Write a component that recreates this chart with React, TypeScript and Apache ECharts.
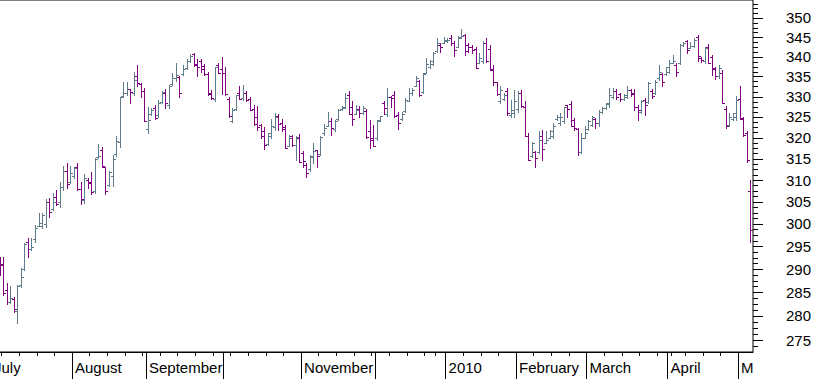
import React, { useEffect, useRef } from 'react';
import * as echarts from 'echarts';

// ---- calendar (trading days) ----
const calendarStart = '2009-07-01';
const calendarEnd = '2010-05-06';
const holidays = ['2009-12-24', '2009-12-25', '2009-12-31', '2010-01-01', '2010-04-02', '2010-04-05'];
const firstBarDate = '2009-07-03';

// ---- month labels on the time axis ----
const monthKeys = ['2009-07', '2009-08', '2009-09', '2009-10', '2009-11', '2009-12', '2010-01', '2010-02', '2010-03', '2010-04', '2010-05'];
const monthLabels = ['July', 'August', 'September', '', 'November', '', '2010', 'February', 'March', 'April', 'M'];

// ---- price axis tick labels (logarithmic price scale) ----
const priceTicks = [275, 280, 285, 290, 295, 300, 305, 310, 315, 320, 325, 330, 335, 340, 345, 350];
const minorTickStep = 1.25;
const priceMin = 272.54;
const priceMax = 354.75;

// ---- OHLC values (one per trading day, starting at firstBarDate) ----
const opens = [
  292.5, 291.0, 285.5, 283.0, 283.5, 281.0, 286.5, 290.0, 296.0, 294.3, 296.5, 299.5, 299.5, 300.0, 305.0, 303.3, 306.0, 305.0, 308.5, 312.0,
  309.5, 311.0, 313.0, 308.0, 305.5, 310.0, 309.5, 307.5, 315.3, 317.0, 313.0, 308.8, 311.0, 316.0, 319.0, 330.2, 331.0, 331.8, 331.0, 335.0,
  333.0, 331.5, 322.0, 325.7, 327.3, 325.5, 328.6, 330.9, 328.0, 333.0, 334.5, 334.8, 335.5, 337.2, 339.0, 340.7, 338.2, 339.0, 337.6, 335.5,
  331.0, 329.5, 337.8, 337.0, 336.0, 329.5, 324.0, 327.0, 331.0, 329.7, 331.0, 329.4, 327.0, 325.0, 323.0, 321.5, 318.5, 320.5, 322.5, 325.3,
  323.5, 322.5, 318.0, 320.3, 318.3, 320.0, 316.3, 313.5, 312.5, 315.5, 317.0, 316.1, 321.0, 322.9, 324.0, 322.0, 324.5, 326.9, 327.5, 330.5,
  327.5, 325.8, 327.0, 325.9, 326.5, 321.5, 320.0, 319.8, 324.2, 328.5, 325.8, 330.0, 330.5, 325.5, 324.5, 326.5, 329.0, 330.8, 332.7, 333.8,
  331.2, 336.0, 337.3, 338.1, 341.5, 343.0, 343.5, 344.0, 344.7, 343.5, 342.5, 344.8, 345.5, 343.0, 342.6, 342.0, 338.5, 339.0, 343.5, 342.0,
  337.0, 333.5, 329.0, 329.5, 331.5, 325.5, 326.0, 327.0, 331.0, 327.5, 320.5, 315.7, 316.5, 316.5, 320.5, 318.8, 320.0, 320.5, 324.5, 323.5,
  324.0, 327.8, 328.2, 324.3, 322.0, 316.5, 320.0, 322.2, 323.0, 324.5, 323.6, 326.2, 327.1, 328.2, 330.0, 331.5, 330.7, 329.4, 330.0, 331.6,
  331.0, 327.5, 326.3, 329.2, 328.6, 331.5, 331.0, 334.5, 335.5, 335.6, 336.2, 338.4, 338.0, 338.5, 343.0, 344.0, 342.3, 342.8, 345.0, 339.6,
  338.8, 342.5, 340.0, 337.0, 335.0, 336.0, 327.0, 323.0, 324.5, 325.0, 329.5, 324.5, 321.0, 307.4,
];
const highs = [
  292.7, 292.7, 286.9, 286.4, 284.1, 286.6, 290.2, 295.8, 296.8, 296.8, 299.7, 302.4, 302.4, 305.6, 305.8, 306.9, 307.7, 309.5, 313.2, 313.9,
  313.3, 313.1, 313.9, 309.6, 311.4, 310.4, 311.8, 315.2, 318.4, 317.8, 313.1, 312.1, 315.9, 320.4, 330.0, 333.7, 333.7, 331.9, 336.2, 337.8,
  333.3, 332.2, 327.5, 327.3, 327.9, 329.2, 331.3, 331.9, 332.9, 335.8, 338.5, 335.0, 337.9, 339.5, 340.6, 341.0, 339.5, 339.5, 338.2, 336.2,
  331.6, 337.5, 338.3, 340.0, 337.5, 330.0, 327.1, 330.5, 332.5, 332.8, 331.3, 329.8, 327.9, 327.7, 323.3, 322.5, 321.1, 324.5, 326.0, 325.7,
  324.5, 323.1, 320.7, 320.7, 320.3, 320.9, 316.7, 313.9, 315.9, 318.7, 317.1, 320.5, 323.3, 326.1, 324.7, 324.3, 326.9, 327.6, 331.0, 331.3,
  328.8, 328.0, 327.7, 327.7, 326.9, 324.3, 323.1, 324.3, 325.3, 328.9, 332.1, 330.2, 331.3, 326.3, 326.3, 329.6, 332.1, 332.1, 335.0, 334.0,
  335.8, 339.6, 339.2, 341.3, 344.7, 343.4, 345.1, 344.9, 345.6, 344.1, 345.3, 347.0, 345.8, 343.4, 343.0, 342.6, 340.9, 343.9, 344.7, 343.0,
  337.9, 333.7, 332.5, 330.9, 332.1, 329.2, 331.7, 331.3, 331.7, 328.8, 321.1, 318.9, 316.7, 321.5, 321.9, 321.5, 321.9, 323.5, 325.5, 325.9,
  327.5, 328.0, 328.8, 324.7, 322.3, 321.1, 322.7, 324.3, 325.2, 324.7, 326.7, 327.4, 328.5, 332.1, 332.1, 331.8, 331.0, 330.7, 332.5, 331.8,
  331.8, 328.0, 329.2, 329.6, 333.7, 331.8, 334.0, 337.9, 335.8, 337.5, 339.2, 340.4, 338.3, 343.2, 343.8, 344.4, 343.8, 344.7, 345.6, 339.8,
  342.6, 343.2, 340.4, 337.5, 337.9, 336.6, 327.7, 325.9, 326.0, 330.2, 332.5, 325.1, 321.5, 310.0,
];
const lows = [
  288.7, 284.4, 282.5, 282.7, 280.9, 278.5, 286.2, 289.8, 292.7, 294.2, 296.0, 299.4, 299.0, 299.3, 301.5, 303.1, 304.3, 303.8, 307.7, 308.1,
  309.2, 310.4, 307.7, 304.6, 304.8, 308.1, 306.8, 306.9, 315.1, 313.1, 306.8, 308.6, 308.6, 315.7, 317.8, 330.0, 330.4, 328.3, 330.4, 332.5,
  330.0, 324.0, 321.2, 325.5, 324.5, 325.1, 328.4, 327.3, 327.1, 332.9, 333.8, 329.8, 335.3, 337.0, 338.7, 337.6, 335.0, 336.2, 335.4, 330.5,
  329.4, 328.8, 335.8, 330.6, 330.5, 325.1, 323.7, 326.6, 329.3, 329.2, 328.8, 326.7, 323.1, 321.9, 319.9, 317.4, 318.3, 319.9, 321.9, 321.9,
  321.5, 317.5, 317.9, 318.0, 314.7, 314.1, 313.1, 310.8, 312.0, 314.0, 313.1, 315.9, 320.7, 322.7, 320.7, 321.5, 324.3, 326.8, 327.1, 325.6,
  323.1, 325.6, 325.1, 325.6, 319.9, 317.5, 317.9, 319.5, 324.1, 325.6, 325.3, 327.4, 325.1, 322.1, 324.3, 326.3, 328.8, 330.5, 332.5, 330.2,
  330.9, 335.8, 337.1, 337.9, 341.3, 341.1, 343.4, 343.8, 343.0, 340.2, 342.4, 344.7, 340.4, 341.3, 340.9, 337.1, 338.3, 338.3, 338.7, 336.6,
  332.9, 330.4, 328.4, 329.2, 325.5, 325.1, 325.1, 326.3, 327.5, 320.3, 314.7, 315.5, 313.1, 316.3, 314.7, 318.7, 319.9, 319.9, 324.3, 323.1,
  323.5, 325.1, 322.7, 321.9, 315.9, 316.3, 319.9, 321.9, 322.8, 322.3, 322.7, 326.0, 326.9, 327.5, 329.6, 329.4, 329.0, 329.2, 329.6, 330.2,
  326.7, 324.3, 325.9, 325.5, 328.4, 329.6, 330.7, 334.2, 332.5, 335.4, 335.8, 338.3, 335.0, 338.1, 342.8, 340.9, 342.2, 342.6, 339.0, 338.7,
  338.5, 338.3, 335.4, 334.3, 334.6, 328.4, 322.3, 322.8, 324.3, 324.3, 324.4, 320.3, 314.1, 296.0,
];
const closes = [
  290.9, 284.8, 283.0, 283.7, 281.4, 286.3, 288.3, 295.6, 294.3, 294.9, 299.0, 300.1, 302.1, 304.9, 302.6, 304.9, 304.4, 308.5, 312.1, 309.0,
  311.6, 312.7, 307.9, 305.6, 310.4, 309.2, 307.2, 314.9, 315.7, 313.3, 307.4, 311.9, 314.9, 319.3, 329.8, 330.8, 331.8, 331.1, 334.1, 333.4,
  331.3, 324.1, 324.2, 326.7, 324.7, 328.4, 331.1, 328.4, 332.7, 334.6, 335.4, 331.0, 337.0, 339.0, 340.2, 338.0, 337.5, 336.9, 335.6, 330.6,
  329.6, 337.3, 335.9, 335.8, 330.6, 325.3, 326.7, 330.3, 329.5, 331.0, 329.2, 326.8, 323.2, 322.5, 320.3, 318.3, 321.0, 322.7, 325.1, 323.3,
  322.0, 317.6, 319.9, 318.3, 320.1, 314.3, 314.5, 311.6, 315.6, 316.7, 315.6, 320.1, 322.3, 323.9, 322.3, 324.1, 326.8, 327.3, 329.6, 325.8,
  324.5, 326.7, 325.9, 327.3, 320.1, 319.5, 318.1, 324.1, 325.2, 327.3, 329.9, 329.6, 325.3, 323.5, 325.8, 329.2, 331.0, 331.7, 334.6, 330.5,
  335.7, 338.1, 338.8, 340.9, 343.6, 342.5, 344.4, 344.4, 343.4, 341.7, 345.0, 345.3, 341.5, 342.6, 341.7, 337.2, 339.6, 343.6, 339.0, 336.7,
  333.7, 330.7, 331.7, 330.5, 325.9, 326.7, 328.8, 330.9, 327.7, 320.4, 314.8, 318.7, 315.1, 319.5, 317.3, 319.5, 321.5, 322.7, 325.1, 325.1,
  327.4, 326.9, 322.8, 322.3, 316.5, 319.9, 321.1, 323.9, 325.1, 323.6, 326.3, 327.1, 328.4, 330.4, 331.3, 329.8, 329.4, 330.4, 331.7, 330.7,
  327.5, 326.7, 328.8, 328.0, 333.3, 330.2, 333.7, 336.2, 333.7, 337.3, 338.3, 339.0, 336.2, 343.0, 343.6, 341.6, 342.8, 344.3, 340.2, 339.2,
  342.2, 338.5, 337.1, 335.0, 337.1, 328.5, 322.8, 325.1, 325.9, 329.2, 324.7, 320.7, 314.6, 298.6,
];

const UP_COLOR = '#607B8B';
const DOWN_COLOR = '#800080';
const FONT = "'Liberation Sans', Arial, sans-serif";
const MAJOR_TICK_LEN = 9;
const MINOR_TICK_LEN = 4;

function tradingDays(): string[] {
  const out: string[] = [];
  const d = new Date(calendarStart + 'T00:00:00Z');
  const end = new Date(calendarEnd + 'T00:00:00Z');
  while (d.getTime() <= end.getTime()) {
    const dow = d.getUTCDay();
    const iso = d.toISOString().slice(0, 10);
    if (dow !== 0 && dow !== 6 && holidays.indexOf(iso) < 0) out.push(iso);
    d.setUTCDate(d.getUTCDate() + 1);
  }
  return out;
}

// the price scale is logarithmic: the value axis works on ln(price)
const toScale = (p: number) => Math.log(p);
const fromScale = (v: number) => Math.exp(v);

export default function App() {
  const ref = useRef<HTMLDivElement>(null);

  useEffect(() => {
    if (!ref.current) return;
    const chart = echarts.init(ref.current, null, { renderer: 'svg' });

    const days = tradingDays();
    const startIdx = days.indexOf(firstBarDate);
    const bars = opens.map((o, k) => [
      startIdx + k,
      toScale(o),
      toScale(highs[k]),
      toScale(lows[k]),
      toScale(closes[k]),
    ]);

    const monthBounds: number[] = [];
    const labelMap = new Map<number, string>();
    const weekBounds: number[] = [];
    days.forEach((d, i) => {
      const key = d.slice(0, 7);
      if (i === 0 || key !== days[i - 1].slice(0, 7)) {
        const v = i - 0.5;
        monthBounds.push(v);
        const mi = monthKeys.indexOf(key);
        labelMap.set(v, mi >= 0 ? monthLabels[mi] : '');
      }
      if (i > 0) {
        const t = Date.parse(d);
        const tp = Date.parse(days[i - 1]);
        const dow = new Date(t).getUTCDay();
        const pdow = new Date(tp).getUTCDay();
        if (dow <= pdow || t - tp >= 7 * 864e5) weekBounds.push(i - 0.5);
      }
    });

    const majorTickValues = priceTicks.map(toScale);
    const minorTickValues: number[] = [];
    for (let p = priceTicks[0] - 2 * minorTickStep; p <= priceTicks[priceTicks.length - 1] + 4 * minorTickStep; p += minorTickStep) {
      minorTickValues.push(toScale(p));
    }

    const xMin = -3.61;
    const xMax = 215.74;
    const yMin = toScale(priceMin);
    const yMax = toScale(priceMax);

    const priceAxisTicks = [
      ...minorTickValues.filter((v) => v > yMin && v < yMax).map((v) => [v, MINOR_TICK_LEN]),
      ...majorTickValues.map((v) => [v, MAJOR_TICK_LEN]),
    ];

    const option: any = {
      animation: false,
      backgroundColor: '#fff',
      grid: {
        left: -20,
        right: 67,
        top: 0,
        bottom: 27,
        show: true,
        borderColor: '#000',
        borderWidth: 1,
        backgroundColor: 'transparent',
        containLabel: false,
        outerBoundsMode: 'none',
      },
      xAxis: [
        {
          type: 'value',
          position: 'bottom',
          min: xMin,
          max: xMax,
          axisLine: { show: true, lineStyle: { color: '#000', width: 1 } },
          axisTick: { show: true, customValues: weekBounds, length: 4, inside: false, lineStyle: { color: '#000' } },
          axisLabel: {
            show: true,
            customValues: monthBounds,
            formatter: (v: number) => labelMap.get(v) ?? '',
            align: 'left',
            padding: [0, 0, 0, 3],
            margin: 8,
            color: '#000',
            fontSize: 15,
            fontFamily: FONT,
          },
          splitLine: { show: false },
        },
        {
          type: 'value',
          position: 'bottom',
          min: xMin,
          max: xMax,
          axisLine: { show: false },
          axisTick: { show: true, customValues: monthBounds, length: 27, inside: false, lineStyle: { color: '#000' } },
          axisLabel: { show: false },
          splitLine: { show: false },
        },
      ],
      yAxis: [
        {
          type: 'value',
          position: 'right',
          min: yMin,
          max: yMax,
          axisLine: { show: true, lineStyle: { color: '#000', width: 1 } },
          axisTick: { show: false },
          axisLabel: {
            show: true,
            customValues: majorTickValues,
            formatter: (v: number) => String(Math.round(fromScale(v))),
            align: 'left',
            margin: 33,
            color: '#000',
            fontSize: 15,
            fontFamily: FONT,
          },
          splitLine: { show: false },
        },
      ],
      series: [
        {
          type: 'custom',
          xAxisIndex: 0,
          yAxisIndex: 0,
          silent: true,
          clip: true,
          encode: { x: 0, y: [1, 2, 3, 4] },
          data: bars,
          renderItem: (params: any, api: any) => {
            const i = api.value(0);
            const o = api.value(1);
            const h = api.value(2);
            const l = api.value(3);
            const c = api.value(4);
            const pH = api.coord([i, h]);
            const pL = api.coord([i, l]);
            const pO = api.coord([i, o]);
            const pC = api.coord([i, c]);
            const x = Math.round(pH[0]) + 0.5;
            const yo = Math.round(pO[1]) + 0.5;
            const yc = Math.round(pC[1]) + 0.5;
            const color = c >= o ? UP_COLOR : DOWN_COLOR;
            const style = { stroke: color, lineWidth: 1, fill: null };
            return {
              type: 'group',
              children: [
                { type: 'line', shape: { x1: x, y1: Math.round(pH[1]), x2: x, y2: Math.round(pL[1]) + 1 }, style },
                { type: 'line', shape: { x1: x - 2.5, y1: yo, x2: x - 0.5, y2: yo }, style },
                { type: 'line', shape: { x1: x + 0.5, y1: yc, x2: x + 2.5, y2: yc }, style },
              ],
            };
          },
        },
        {
          // tick marks of the logarithmic price axis
          type: 'custom',
          xAxisIndex: 0,
          yAxisIndex: 0,
          silent: true,
          clip: false,
          encode: { y: 0 },
          data: priceAxisTicks,
          renderItem: (params: any, api: any) => {
            const v = api.value(0);
            const len = api.value(1);
            const p = api.coord([xMax, v]);
            const x0 = Math.round(p[0]);
            const y = Math.round(p[1]) + 0.5;
            return {
              type: 'line',
              shape: { x1: x0, y1: y, x2: x0 + 1 + len, y2: y },
              style: { stroke: '#000', lineWidth: 1, fill: null },
            };
          },
        },
      ],
    };

    chart.setOption(option);
    return () => {
      chart.dispose();
    };
  }, []);

  return <div ref={ref} style={{ position: 'fixed', left: 0, top: 0, width: 820, height: 379 }} />;
}
